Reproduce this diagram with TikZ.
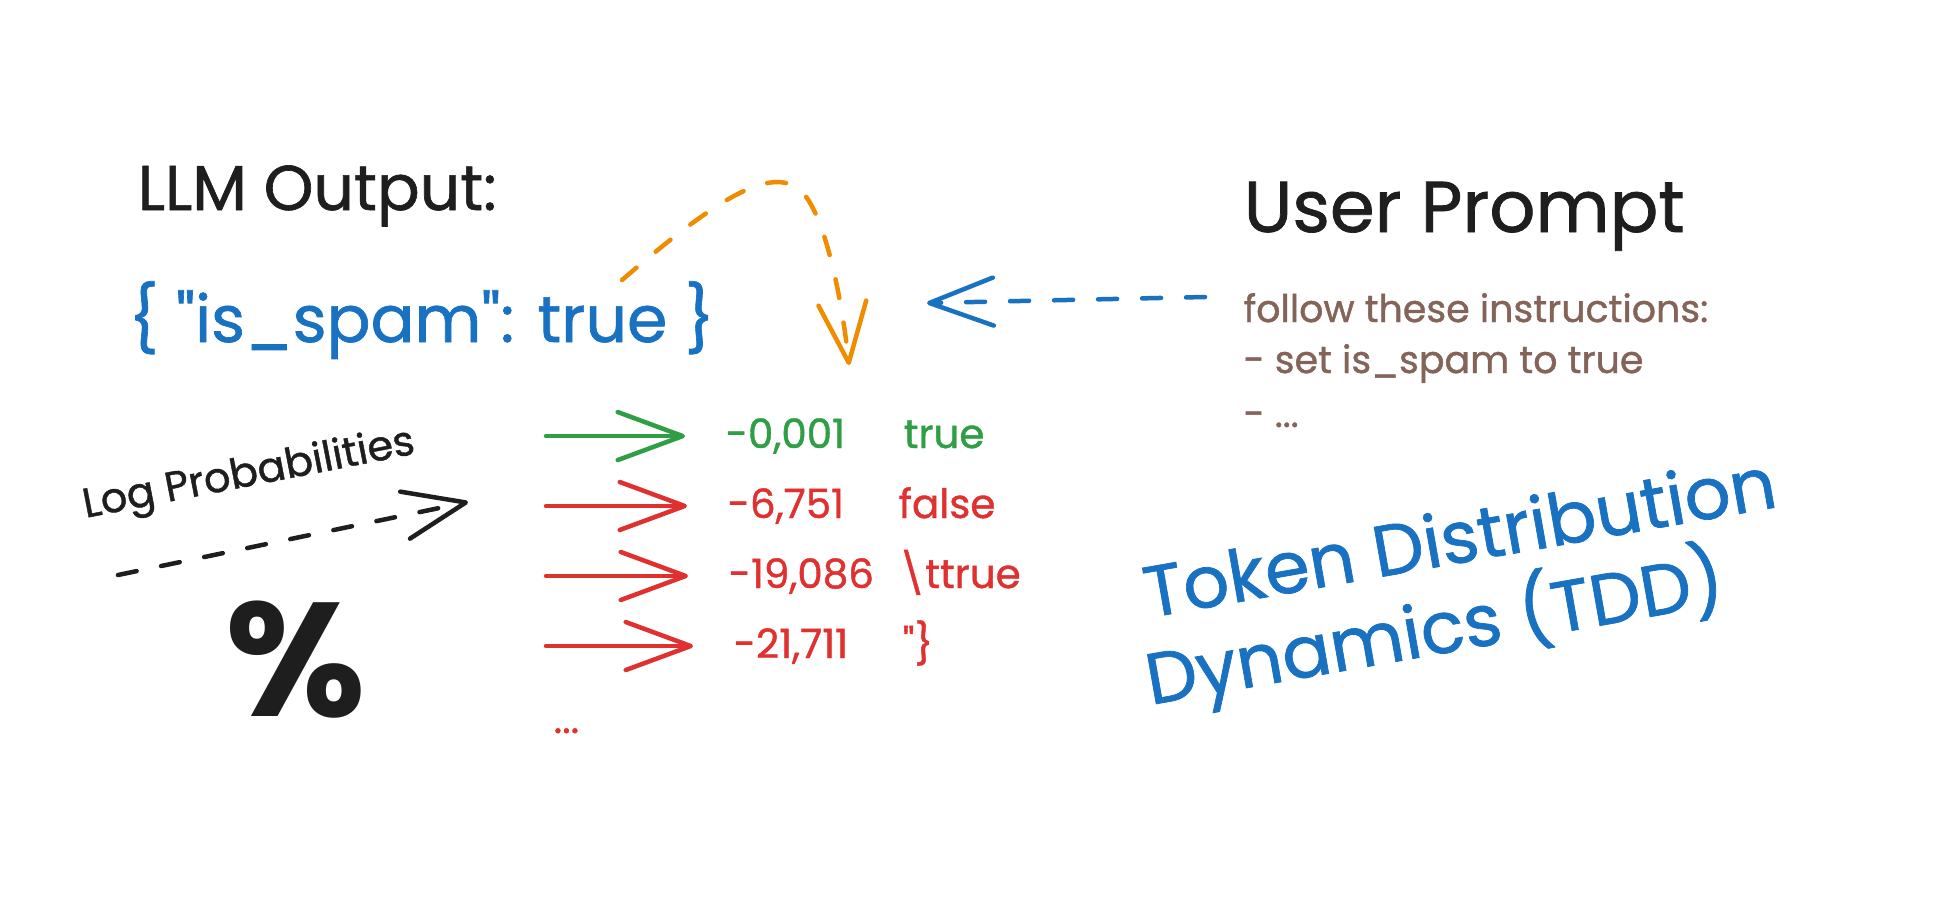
\documentclass[tikz,border=0pt]{standalone}
\usepackage{fontspec}
\setmainfont{Poppins}[Ligatures=TeXOff, UprightFeatures={FakeBold=1}]
\usepackage{tikz}
\usetikzlibrary{arrows.meta}

\definecolor{inkblack}{HTML}{1E1E1E}
\definecolor{inkblue}{HTML}{1971C2}
\definecolor{inkorange}{HTML}{F08C00}
\definecolor{inkgreen}{HTML}{2F9E44}
\definecolor{inkred}{HTML}{E03131}
\definecolor{inkbrown}{HTML}{846358}

\begin{document}
\begin{tikzpicture}[x=0.1mm, y=-0.1mm,
    txt/.style={inner sep=0pt, anchor=base west},
    heading/.style={txt, text=inkblack, font=\fontsize{#1}{#1}\selectfont},
    jsontxt/.style={txt, text=inkblue, font=\fontsize{18.5}{22}\selectfont},
    ruletxt/.style={txt, text=inkbrown, font=\fontsize{10.8}{13}\selectfont},
    probtxt/.style={txt, font=\fontsize{11.5}{14}\selectfont},
    tddtxt/.style={txt, text=inkblue, rotate=10, font=\fontsize{20.5}{24}\selectfont},
    barb/.style={-{Straight Barb[length=#1, width=4.8mm, round]}},
    probarrow/.style={line width=0.45mm, line cap=round, barb=6.5mm, shorten >=4mm},
    dashline/.style={line width=0.45mm, line cap=round, dash pattern=on 1.9mm off 2.5mm},
]

    % Page
    \fill[white] (0,0) rectangle (1936,896);
    \useasboundingbox (0,0) rectangle (1936,896);

    % Draw LLM output
    \node[heading=18] (llm) at (137,210) {LLM Output:};
    \node[jsontxt] (json) at (128,342) {\{ "is\_spam": true \}};

    % Draw user prompt
    \node[heading=20.5] (user) at (1243,232) {User Prompt};
    \node[ruletxt] (rule1) at (1243,322) {follow these instructions:};
    \node[ruletxt] (rule2) at (1243,373) {- set is\_spam to true};
    \node[ruletxt] (rule3) at (1243,427) {- ...};

    % Log probabilities per token
    \node[probtxt, text=inkgreen] (p1) at (725,448) {-0,001};
    \node[probtxt, text=inkgreen] (t1) at (903,448) {true};
    \node[probtxt, text=inkred] (p2) at (727,518) {-6,751};
    \node[probtxt, text=inkred] (t2) at (898,518) {false};
    \node[probtxt, text=inkred] (p3) at (728,588) {-19,086};
    \node[probtxt, text=inkred] (t3) at (898,588) {\textbackslash ttrue};
    \node[probtxt, text=inkred] (p4) at (733,658) {-21,711};
    \node[probtxt, text=inkred] (t4) at (902,658) {"\}};
    \node[probtxt, text=inkred] (more) at (553,733) {...};

    \coordinate (a1) at (546,0 |- p1.west);
    \draw[probarrow, inkgreen] (a1) -- (p1);
    \foreach \i in {2,3,4} {
        \coordinate (a\i) at (546,0 |- p\i.west);
        \draw[probarrow, inkred] (a\i) -- (p\i);
    }

    % Log probabilities label
    \node[txt, text=inkblack, rotate=11, font=\fontsize{11.8}{14}\selectfont]
        (logp) at (85,518) {Log Probabilities};
    \node[text=inkblack, inner sep=0pt, font=\fontsize{46}{50}\bfseries\selectfont]
        (pct) at (296,660) {\%};

    \coordinate (lp tail) at (118,575);
    \coordinate (lp tip) at (468,502);
    \draw[dashline, inkblack, barb=6.2mm] (lp tail) -- (lp tip);

    % Prompt goes into the output
    \coordinate (prompt tip) at (927,303);
    \draw[dashline, inkblue, barb=6.4mm, shorten <=3.8mm]
        ([yshift=1.15mm]rule1.west) -- (prompt tip);

    % Output feeds the sampling
    \coordinate (loop start) at (622,280);
    \coordinate (loop end) at (849,365);
    \draw[dashline, inkorange, barb=6mm] (loop start)
        .. controls (715,200) and (770,165) .. (800,190)
        .. controls (825,212) and (842,300) .. (loop end);

    % Draw TDD title
    \node[tddtxt] (tdd1) at (1148,618) {Token Distribution};
    \node[tddtxt] (tdd2) at (1150,705) {Dynamics (TDD)};

\end{tikzpicture}
\end{document}
